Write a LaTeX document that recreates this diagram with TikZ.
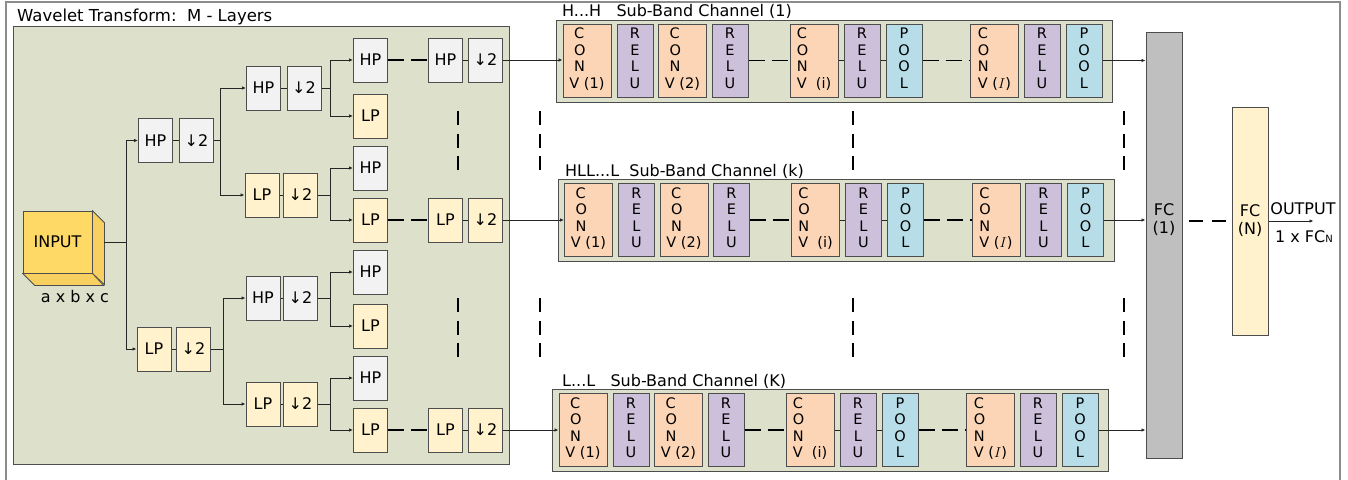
\documentclass[tikz,border=0pt]{standalone}
\usepackage{fontspec}
\setmainfont{DejaVu Sans}
\usepackage{tikz}
\usetikzlibrary{arrows.meta}
\definecolor{bandfill}{HTML}{DDE1CB}
\definecolor{hpfill}{HTML}{F2F2F2}
\definecolor{lpfill}{HTML}{FFF2CC}
\definecolor{inputfill}{HTML}{FFD966}
\definecolor{inputside}{HTML}{F7D060}
\definecolor{convfill}{HTML}{FBD5B5}
\definecolor{relufill}{HTML}{CCC0DA}
\definecolor{poolfill}{HTML}{B7DEE8}
\definecolor{fcfill}{HTML}{BFBFBF}
\definecolor{boxline}{HTML}{4D4D4D}
\definecolor{framegray}{HTML}{8C8C8C}

\begin{document}
\begin{tikzpicture}[x=1pt, y=-1pt,
    every node/.style={font=\fontsize{16}{18}\selectfont, inner sep=0pt},
    filt/.style={rectangle, draw=boxline, line width=1pt, fill=hpfill, minimum width=34pt, minimum height=44pt},
    lowfilt/.style={filt, fill=lpfill},
    layer/.style={rectangle, draw=boxline, line width=1pt, minimum height=73pt, font=\fontsize{14.5}{16.5}\selectfont, align=center},
    convbox/.style={layer, fill=convfill, minimum width=48pt, align=left},
    relubox/.style={layer, fill=relufill, minimum width=36pt},
    poolbox/.style={layer, fill=poolfill, minimum width=36pt},
    band/.style={rectangle, draw=boxline, line width=1pt, fill=bandfill, anchor=north west},
    fcbox/.style={rectangle, draw=boxline, line width=1pt, minimum width=36pt, align=center},
    wire/.style={line width=0.8pt, draw=black!85},
    arr/.style={wire, -{Latex[length=4pt, width=3.5pt]}},
    skipdash/.style={line width=1.8pt, dash pattern=on 16pt off 7pt},
    vellipsis/.style={line width=1.5pt, dash pattern=on 14pt off 8.5pt},
]
\useasboundingbox (0,0) rectangle (1348,479);
\draw[framegray, line width=1.2pt] (6,485) -- (6,2) -- (1340,2) -- (1340,485);

% wavelet part
\node[band, minimum width=496pt, minimum height=438pt] (wave) at (13,26) {};
\node[anchor=base west, font=\fontsize{16.5}{18}\selectfont] (waveTitle) at (17,21) {Wavelet Transform:\ \ M - Layers};

\node[draw=boxline, fill=inputfill, line width=0.8pt, minimum width=69pt, minimum height=62pt] (input) at (57.5,242) {INPUT};
\filldraw[fill=inputside, draw=boxline, line width=0.8pt] (input.north east) -- ++(12,12) -- ++(0,62) -- (input.south east) -- cycle;
\filldraw[fill=inputside, draw=boxline, line width=0.8pt] (input.south west) -- ++(12,12) -- ++(69,0) -- (input.south east) -- cycle;
\coordinate (inR) at ([xshift=12pt]input.east);
\node (dims) at (75,297) {a x b x c};

\node[filt] (hpA) at (155.5,140.5) {HP}; \node[filt] (dsA) at (196.5,140.5) {↓2};
\node[lowfilt] (lpA) at (154,349) {LP}; \node[lowfilt] (dsB) at (193.5,349) {↓2};

\node[filt] (hpB) at (263.5,88) {HP}; \node[filt] (dsC) at (304,88) {↓2};
\node[lowfilt] (lpB) at (262,195) {LP}; \node[lowfilt] (dsD) at (300.5,195) {↓2};
\node[filt] (hpC) at (263,298) {HP}; \node[filt] (dsE) at (300.5,298) {↓2};
\node[lowfilt] (lpC) at (263,404) {LP}; \node[lowfilt] (dsF) at (300.5,404) {↓2};

\node[filt] (hpD) at (370.5,60) {HP}; \node[lowfilt] (lpD) at (370.5,116) {LP};
\node[filt] (hpE) at (370.5,168) {HP}; \node[lowfilt] (lpE) at (370.5,220) {LP};
\node[filt] (hpF) at (370.5,272) {HP}; \node[lowfilt] (lpF) at (370.5,326) {LP};
\node[filt] (hpG) at (370.5,378) {HP}; \node[lowfilt] (lpG) at (370.5,430) {LP};

\node[filt] (hpM) at (445.5,60) {HP}; \node[filt] (dsM) at (485.5,60) {↓2};
\node[lowfilt] (lpM) at (445.5,220) {LP}; \node[lowfilt] (dsN) at (485.5,220) {↓2};
\node[lowfilt] (lpN) at (445.5,430) {LP}; \node[lowfilt] (dsO) at (485.5,430) {↓2};

\draw[wire] (inR) -- ++(22,0);
\draw[arr] (inR) -- ++(22,0) |- (hpA.west);
\draw[arr] (inR) -- ++(22,0) |- (lpA.west);
\draw[wire] (hpA) -- (dsA); \draw[wire] (lpA) -- (dsB);
\draw[arr] (dsA.east) -- ++(6,0) |- (hpB.west);
\draw[arr] (dsA.east) -- ++(6,0) |- (lpB.west);
\draw[arr] (dsB.east) -- ++(12,0) |- (hpC.west);
\draw[arr] (dsB.east) -- ++(12,0) |- (lpC.west);
\draw[wire] (hpB) -- (dsC); \draw[wire] (lpB) -- (dsD);
\draw[wire] (hpC) -- (dsE); \draw[wire] (lpC) -- (dsF);
\draw[arr] (dsC.east) -- ++(9,0) |- (hpD.west);
\draw[arr] (dsC.east) -- ++(9,0) |- (lpD.west);
\draw[arr] (dsD.east) -- ++(12.5,0) |- (hpE.west);
\draw[arr] (dsD.east) -- ++(12.5,0) |- (lpE.west);
\draw[arr] (dsE.east) -- ++(12.5,0) |- (hpF.west);
\draw[arr] (dsE.east) -- ++(12.5,0) |- (lpF.west);
\draw[arr] (dsF.east) -- ++(12.5,0) |- (hpG.west);
\draw[arr] (dsF.east) -- ++(12.5,0) |- (lpG.west);
\draw[skipdash] (hpD) -- (hpM); \draw[skipdash] (lpE) -- (lpM); \draw[skipdash] (lpG) -- (lpN);
\draw[wire] (hpM) -- (dsM); \draw[wire] (lpM) -- (dsN); \draw[wire] (lpN) -- (dsO);

% fully connected part
\node[fcbox, fill=fcfill, minimum height=426pt] (fc1) at (1164,245) {};
\node[align=center] (fc1Lbl) at (1164,220) {FC\\(1)};
\node[fcbox, fill=lpfill, minimum height=228pt] (fcN) at (1250,221) {FC\\(N)};
\draw[skipdash, line width=1.6pt, dash pattern=on 14pt off 9pt, shorten <=6pt, shorten >=4pt] (fc1.east |- fcN.west) -- (fcN.west);
\draw[arr] (fcN.east) -- ++(45,0) coordinate (outEnd);
\node (outLbl) at (1303,209) {OUTPUT};
\node (outDim) at (1304,237) {1 x FC{\fontsize{10}{10}\selectfont N}};

% sub-band channels
\foreach \c/\dx/\yc in {a/4/60.5, b/5.5/220, c/0/430} {
    \node[band, minimum width=556pt, minimum height=82pt] (band\c) at (552+\dx,\yc-41) {};
    \node[convbox] (conv1\c) at (583+\dx,\yc) {\ C\\\ O\\\ N\\V (1)\strut};
    \node[relubox] (relu1\c) at (631+\dx,\yc) {R\\E\\L\\U\strut};
    \node[convbox] (conv2\c) at (678.5+\dx,\yc) {\ C\\\ O\\\ N\\V (2)\strut};
    \node[relubox] (relu2\c) at (726+\dx,\yc) {R\\E\\L\\U\strut};
    \node[convbox] (convi\c) at (810+\dx,\yc) {C\\O\\N\\V\ \ (i)\strut};
    \node[relubox] (relui\c) at (858+\dx,\yc) {R\\E\\L\\U\strut};
    \node[poolbox] (pooli\c) at (900+\dx,\yc) {P\\O\\O\\L\strut};
    \node[convbox] (convI\c) at (990.5+\dx,\yc) {C\\O\\N\\V ($I$)\strut};
    \node[relubox] (reluI\c) at (1038+\dx,\yc) {R\\E\\L\\U\strut};
    \node[poolbox] (poolI\c) at (1080+\dx,\yc) {P\\O\\O\\L\strut};
    \draw[skipdash, line width=1.5pt] (relu2\c) -- (convi\c);
    \draw[wire] (convi\c) -- (relui\c);
    \draw[wire] (relui\c) -- (pooli\c);
    \draw[skipdash, line width=1.5pt] (pooli\c) -- (convI\c);
    \draw[arr] (poolI\c.east) -- (fc1.west |- poolI\c.east);
}
\node[anchor=base west] (titleA) at (562,16.5) {H...H\ \ \ Sub-Band Channel (1)};
\node[anchor=base west] (titleB) at (565,176.5) {HLL...L\ \ Sub-Band Channel (k)};
\node[anchor=base west] (titleC) at (562,386) {L...L\ \ \ Sub-Band Channel (K)};

\draw[arr] (dsM.east) -- (conv1a.west |- dsM.east);
\draw[arr] (dsN.east) -- (conv1b.west |- dsN.east);
\draw[arr] (dsO.east) -- (conv1c.west |- dsO.east);

% ellipsis marks
\foreach \x in {458,540,853,1124} {
    \draw[vellipsis] (\x,111) -- (\x,170);
    \draw[vellipsis] (\x,298) -- (\x,357);
}
\end{tikzpicture}
\end{document}
